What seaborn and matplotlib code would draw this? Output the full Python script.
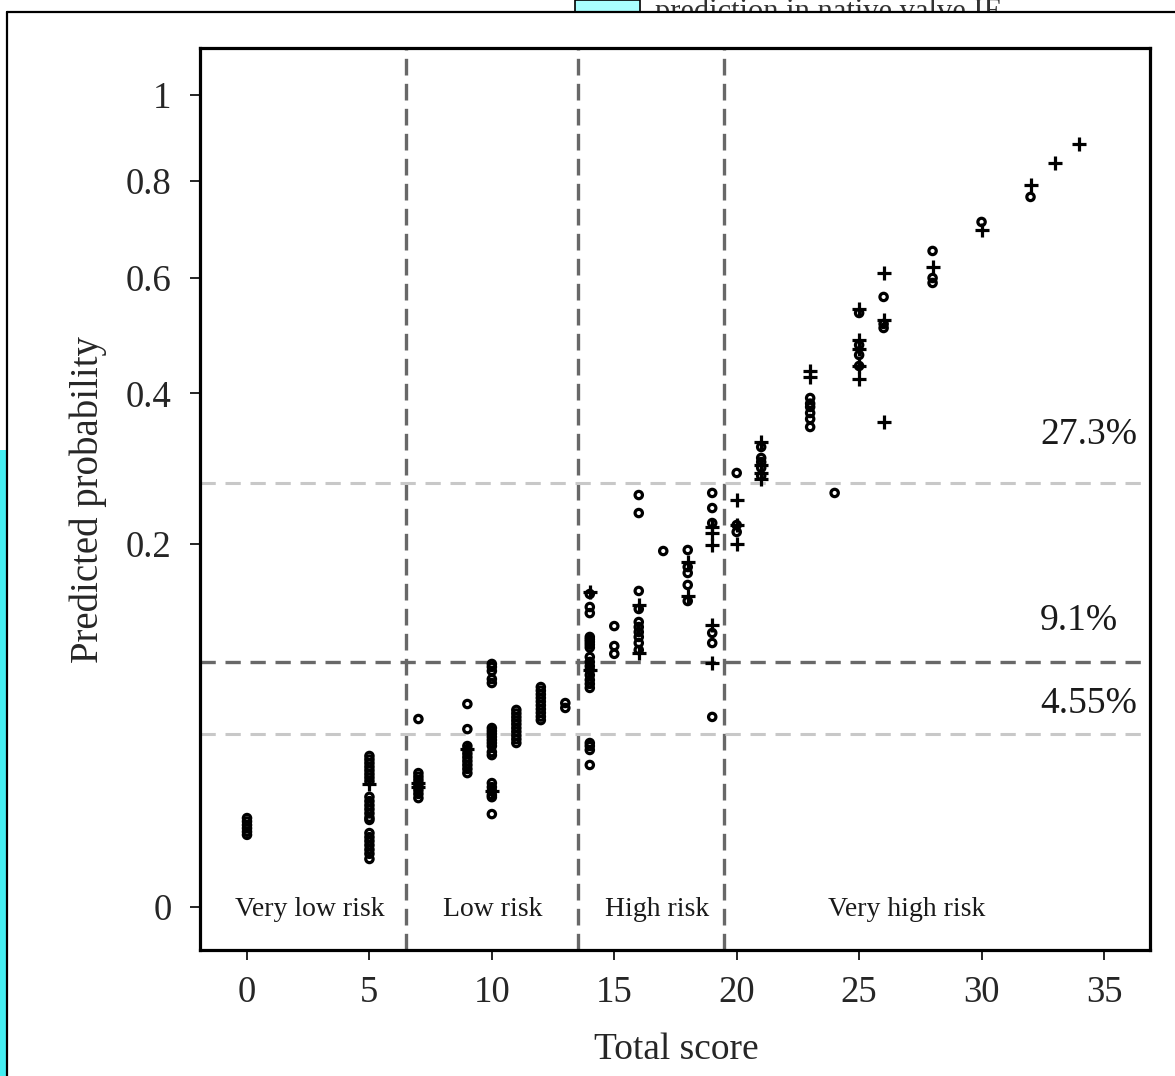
import numpy as np
import pandas as pd
import matplotlib
matplotlib.use("Agg")
import matplotlib.pyplot as plt
from matplotlib.patches import Rectangle
from matplotlib.lines import Line2D
import seaborn as sns

# ---- data (total score, predicted probability) ----
circle_scores = ([0] * 6
                 + [5] * 22
                 + [7] * 9
                 + [9] * 10
                 + [10] * 20
                 + [11] * 10
                 + [12] * 10
                 + [13] * 2
                 + [14] * 20
                 + [15] * 3
                 + [16] * 10
                 + [17] * 1
                 + [18] * 5
                 + [19] * 6
                 + [20] * 3
                 + [21] * 5
                 + [23] * 6
                 + [24] * 1
                 + [25] * 4
                 + [26] * 3
                 + [28] * 3
                 + [30] * 1
                 + [32] * 1)
circle_probs = [0.0120, 0.0111, 0.0102, 0.0094, 0.0086, 0.0079,
                0.0346, 0.0330, 0.0314, 0.0298, 0.0283, 0.0268, 0.0254, 0.0240,
                0.0184, 0.0170, 0.0157, 0.0145, 0.0133, 0.0121, 0.0115,
                0.0083, 0.0074, 0.0066, 0.0058, 0.0050, 0.0043, 0.0035,
                0.0536, 0.0272, 0.0258, 0.0245, 0.0232, 0.0220, 0.0207, 0.0194, 0.0180,
                0.0625, 0.0480, 0.0393, 0.0375, 0.0357, 0.0340, 0.0323, 0.0306, 0.0289, 0.0272,
                0.0896, 0.0874, 0.0845, 0.0788, 0.0761, 0.0486, 0.0470, 0.0455, 0.0439, 0.0423,
                0.0408, 0.0393, 0.0364, 0.0350, 0.0233, 0.0218, 0.0204, 0.0190, 0.0183, 0.0131,
                0.0589, 0.0568, 0.0547, 0.0527, 0.0507, 0.0486, 0.0466, 0.0446, 0.0427, 0.0408,
                0.0734, 0.0710, 0.0686, 0.0663, 0.0640, 0.0617, 0.0594, 0.0572, 0.0550, 0.0530,
                0.0631, 0.0601,
                0.1486, 0.1365, 0.1310, 0.1106, 0.1086, 0.1066, 0.1044, 0.1021, 0.0948, 0.0911,
                0.0880, 0.0852, 0.0816, 0.0782, 0.0755, 0.0728, 0.0408, 0.0393, 0.0374, 0.0306,
                0.1197, 0.1033, 0.0972,
                0.2574, 0.2354, 0.1515, 0.1347, 0.1232, 0.1189, 0.1147, 0.1106, 0.1057, 0.1002,
                0.1922,
                0.1933, 0.1753, 0.1692, 0.1573, 0.1420,
                0.2600, 0.2414, 0.2236, 0.1139, 0.1057, 0.0548,
                0.2857, 0.2213, 0.2133,
                0.3209, 0.3058, 0.3003, 0.2925, 0.2818,
                0.3929, 0.3843, 0.3792, 0.3701, 0.3612, 0.3494,
                0.2600,
                0.5351, 0.4790, 0.4621, 0.4439,
                0.5644, 0.5155, 0.5084,
                0.6527, 0.6000, 0.5906,
                0.7117,
                0.7646]

plus_scores = ([5] + [7] * 2 + [9] + [10] + [14] * 2 + [16] * 2 + [18] * 2
               + [19] * 5 + [20] * 3 + [21] * 4 + [23] * 2 + [25] * 5 + [26] * 3
               + [28] + [30] + [32] + [33] + [34])
plus_probs = [0.0230,
              0.0233, 0.0218,
              0.0379,
              0.0204,
              0.1505, 0.0852,
              0.1383, 0.0979,
              0.1805, 0.1467,
              0.2193, 0.2121, 0.1988, 0.1206, 0.0903,
              0.2512, 0.2213, 0.1999,
              0.3280, 0.2963, 0.2857, 0.2778,
              0.4357, 0.4261,
              0.5424, 0.4876, 0.4723, 0.4439, 0.4228,
              0.6096, 0.5226, 0.3568,
              0.6212,
              0.6951,
              0.7906,
              0.8396,
              0.8830]

cutoffs = [6.5, 13.5, 19.5]
thresholds = [0.273, 0.091, 0.0455]
threshold_labels = ["27.3%", "9.1%", "4.55%"]
risk_labels = ["Very low risk", "Low risk", "High risk", "Very high risk"]
risk_centers = [2.55, 10.05, 16.75, 26.95]
y_ticks = [0, 0.2, 0.4, 0.6, 0.8, 1]
y_tick_labels = ["0", "0.2", "0.4", "0.6", "0.8", "1"]
x_ticks = [0, 5, 10, 15, 20, 25, 30, 35]

df_circ = pd.DataFrame({"score": circle_scores, "prob": circle_probs})
df_plus = pd.DataFrame({"score": plus_scores, "prob": plus_probs})

sns.set_style("white")
plt.rcParams["font.family"] = ["Liberation Serif", "DejaVu Serif"]
plt.rcParams["lines.scale_dashes"] = False

fig = plt.figure(figsize=(11.75, 10.76), dpi=100)
ax = fig.add_axes([200 / 1175, 1 - 950 / 1076, 950 / 1175, 902 / 1076])


def fwd(p):
    p = np.asarray(p, dtype=float)
    return np.sign(p) * np.sqrt(np.abs(p))


def inv(s):
    s = np.asarray(s, dtype=float)
    return np.sign(s) * s ** 2


# probability axis is on a square-root scale
ax.set_yscale("function", functions=(fwd, inv))

# reference lines
for x in cutoffs:
    ax.axvline(x, color="#686868", lw=2.4, dashes=(12, 6), zorder=1)
ax.axhline(thresholds[0], color="#c8c8c8", lw=2.2, dashes=(11, 7), zorder=1)
ax.axhline(thresholds[1], color="#686868", lw=2.4, dashes=(11, 7), zorder=1)
ax.axhline(thresholds[2], color="#c8c8c8", lw=2.2, dashes=(11, 7), zorder=1)

# points
sns.scatterplot(data=df_circ, x="score", y="prob", ax=ax, marker="o", s=28,
                facecolors="none", edgecolors="black", linewidths=2.3, zorder=3)
sns.scatterplot(data=df_plus, x="score", y="prob", ax=ax, marker="+", s=110,
                color="black", linewidths=2.3, zorder=4)

ax.set_xlim(-1.92, 36.88)
ax.set_ylim(-0.0028, 1.119)

ax.set_xticks(x_ticks)
ax.set_yticks(y_ticks)
ax.set_yticklabels(y_tick_labels)
ax.minorticks_off()

ax.tick_params(axis="both", which="major", direction="out", length=7.5, width=1.2,
               color="black", labelsize=26.5, bottom=True, left=True, top=False, right=False)
ax.tick_params(axis="y", pad=13)
ax.tick_params(axis="x", pad=11)

for sp in ax.spines.values():
    sp.set_color("black")
    sp.set_linewidth(2.3)

ax.set_xlabel("Total score", fontsize=27)
ax.set_ylabel("Predicted probability", fontsize=28)
ax.xaxis.set_label_coords(0.501, -0.091)
ax.yaxis.set_label_coords(-0.098, 0.499)

# threshold percentages
text_y = [0.338, 0.124, 0.0625]
for lab, ty in zip(threshold_labels, text_y):
    ax.text(32.39, ty, lab, fontsize=27, ha="left", va="center", color="#1a1a1a")

# risk group labels
for lab, cx in zip(risk_labels, risk_centers):
    ax.text(cx, -0.00001, lab, fontsize=20, ha="center", va="center", color="#1a1a1a")

# page remnants around the figure
fig.text(655 / 1175, 1 - 20 / 1076, "prediction in native valve IE", fontsize=22,
         color="#333333", ha="left", va="baseline")
fig.add_artist(Rectangle((560 / 1175, 1 - 45 / 1076), 615 / 1175, 33 / 1076,
                         transform=fig.transFigure, facecolor="white", edgecolor="none", zorder=5))
fig.add_artist(Rectangle((575 / 1175, 1 - 12 / 1076), 65 / 1175, 12 / 1076,
                         transform=fig.transFigure, facecolor="#aaffff", edgecolor="black",
                         lw=1.2, zorder=6))
fig.add_artist(Rectangle((0, 0), 6 / 1175, 1 - 450 / 1076,
                         transform=fig.transFigure, facecolor="#44eef2", edgecolor="none", zorder=6))
fig.add_artist(Line2D([7 / 1175, 1], [1 - 12 / 1076, 1 - 12 / 1076],
                      transform=fig.transFigure, color="black", lw=1.6, zorder=7))
fig.add_artist(Line2D([7 / 1175, 7 / 1175], [0, 1 - 12 / 1076],
                      transform=fig.transFigure, color="black", lw=1.6, zorder=7))

fig.savefig("out.png", dpi=100)
